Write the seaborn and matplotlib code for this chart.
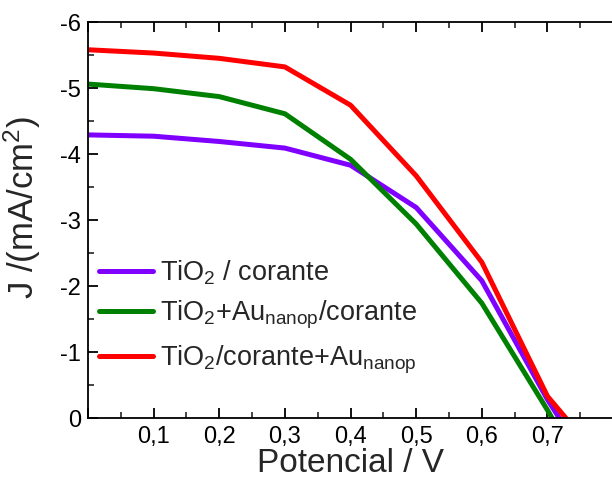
import numpy as np
import pandas as pd
import matplotlib
matplotlib.use("Agg")
import matplotlib.pyplot as plt
from matplotlib.ticker import MultipleLocator, FuncFormatter
import seaborn as sns

# potential (V) and current density (mA/cm2)
v_tio2 = [0.0, 0.1, 0.2, 0.3, 0.4, 0.5, 0.6, 0.7, 0.718]
j_tio2 = [-4.29, -4.27, -4.19, -4.09, -3.83, -3.19, -2.08, -0.28, 0.0]

v_tio2_au = [0.0, 0.1, 0.2, 0.3, 0.4, 0.5, 0.6, 0.7, 0.707]
j_tio2_au = [-5.06, -4.99, -4.87, -4.61, -3.92, -2.94, -1.74, -0.12, 0.0]

v_cor_au = [0.0, 0.1, 0.2, 0.3, 0.4, 0.5, 0.6, 0.7, 0.728]
j_cor_au = [-5.58, -5.53, -5.45, -5.32, -4.74, -3.67, -2.36, -0.33, 0.0]

labels = [r"TiO$_2$ / corante",
          r"TiO$_2$+Au$_{\mathregular{nanop}}$/corante",
          r"TiO$_2$/corante+Au$_{\mathregular{nanop}}$"]
colors = ["#8000FF", "#008000", "#FF0000"]

frames = []
for lab, v, j in zip(labels, [v_tio2, v_tio2_au, v_cor_au], [j_tio2, j_tio2_au, j_cor_au]):
    frames.append(pd.DataFrame({"V": v, "J": j, "amostra": lab}))
df = pd.concat(frames, ignore_index=True)

sns.set_style("ticks")
plt.rcParams["font.family"] = ["Liberation Sans", "DejaVu Sans"]
plt.rcParams["mathtext.fontset"] = "custom"
plt.rcParams["mathtext.rm"] = "Liberation Sans"
plt.rcParams["mathtext.it"] = "Liberation Sans"
plt.rcParams["mathtext.default"] = "regular"

fig = plt.figure(figsize=(6.12, 4.79), dpi=100)
ax = fig.add_axes([0.1438, 0.1273, 0.858, 0.8267])

sns.lineplot(data=df, x="V", y="J", hue="amostra", palette=colors,
             hue_order=labels, linewidth=3.6, sort=False, estimator=None, ax=ax)

ax.set_xlim(0, 0.8)
ax.set_ylim(0, -6)
ax.xaxis.set_major_locator(MultipleLocator(0.1))
ax.xaxis.set_minor_locator(MultipleLocator(0.05))
ax.yaxis.set_major_locator(MultipleLocator(1))
ax.yaxis.set_minor_locator(MultipleLocator(0.5))
ax.xaxis.set_major_formatter(FuncFormatter(
    lambda x, p: "" if x < 0.05 or x > 0.75 else f"{x:.1f}".replace(".", ",")))
ax.yaxis.set_major_formatter(FuncFormatter(lambda y, p: f"{y:.0f}" if round(y) != 0 else "0"))

ax.spines["right"].set_visible(False)
for s in ["left", "bottom", "top"]:
    ax.spines[s].set_linewidth(1.3)
    ax.spines[s].set_color("black")
ax.tick_params(which="major", direction="in", length=7, width=1.3, labelsize=17,
               top=True, colors="black", pad=5)
ax.tick_params(which="minor", direction="in", length=4, width=1.2, top=True)
ax.tick_params(axis="x", which="both", top=True)
ax.tick_params(axis="x", which="major", pad=6)

ax.set_xlabel("Potencial / V", fontsize=24, labelpad=0)
ax.set_ylabel("J /(mA/cm$^2$)", fontsize=25)
ax.yaxis.set_label_coords(-0.085, 0.53)

ax.legend(loc="upper left", bbox_to_anchor=(-0.01, 0.445), frameon=False,
          fontsize=19.5, handlelength=2.0, handletextpad=0.25, labelspacing=0.45,
          borderaxespad=0.2)

fig.savefig("out.png", dpi=100)
